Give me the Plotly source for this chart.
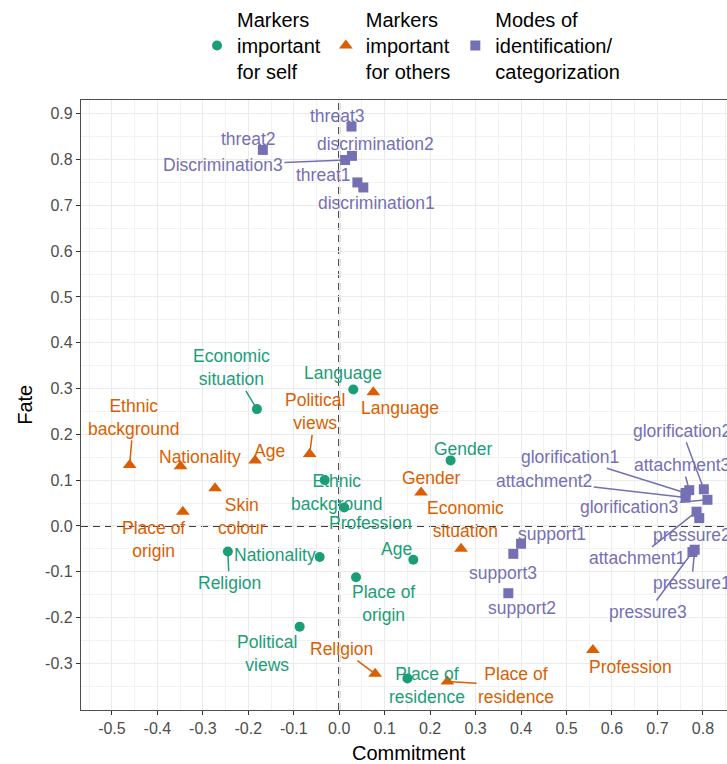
import plotly.graph_objects as go

# ---- data: commitment (x) and fate (y) coordinates -------------------------
self_labels = ["Economic situation", "Language", "Ethnic background", "Profession",
               "Gender", "Age", "Nationality", "Religion", "Place of origin",
               "Political views", "Place of residence"]
self_commitment = [-0.181, 0.031, -0.032, 0.011, 0.245, 0.163, -0.043, -0.245, 0.037, -0.087, 0.150]
self_fate = [0.255, 0.298, 0.100, 0.040, 0.143, -0.074, -0.068, -0.056, -0.112, -0.220, -0.333]

others_labels = ["Ethnic background", "Nationality", "Age", "Political views", "Skin colour",
                 "Place of origin", "Language", "Gender", "Economic situation", "Profession",
                 "Religion", "Place of residence"]
others_commitment = [-0.461, -0.349, -0.185, -0.065, -0.273, -0.344, 0.075, 0.180, 0.268, 0.558, 0.079, 0.238]
others_fate = [0.133, 0.130, 0.143, 0.157, 0.082, 0.031, 0.292, 0.073, -0.050, -0.271, -0.323, -0.340]

modes_labels = ["threat1", "threat2", "threat3", "discrimination1", "discrimination2",
                "Discrimination3", "support1", "support2", "support3", "glorification1",
                "glorification2", "glorification3", "attachment1", "attachment2",
                "attachment3", "pressure1", "pressure2", "pressure3"]
modes_commitment = [0.040, -0.168, 0.027, 0.053, 0.028, 0.013, 0.400, 0.372, 0.383, 0.762,
                    0.802, 0.810, 0.786, 0.762, 0.770, 0.782, 0.792, 0.777]
modes_fate = [0.750, 0.821, 0.872, 0.739, 0.808, 0.799, -0.039, -0.147, -0.061, 0.072,
              0.080, 0.057, 0.031, 0.062, 0.078, -0.052, 0.017, -0.057]

x_ticks = [-0.5, -0.4, -0.3, -0.2, -0.1, 0.0, 0.1, 0.2, 0.3, 0.4, 0.5, 0.6, 0.7, 0.8]
y_ticks = [-0.3, -0.2, -0.1, 0.0, 0.1, 0.2, 0.3, 0.4, 0.5, 0.6, 0.7, 0.8, 0.9]

# ---- repelled label placement: label centre (data units) and leader segment --
self_text_pos = {
    "Economic situation": (-0.236, 0.345, True),
    "Language": (0.009, 0.333, False),
    "Ethnic background": (-0.005, 0.073, False),
    "Profession": (0.068, 0.007, False),
    "Gender": (0.273, 0.167, False),
    "Age": (0.127, -0.050, False),
    "Nationality": (-0.141, -0.063, False),
    "Religion": (-0.242, -0.124, True),
    "Place of origin": (0.097, -0.170, False),
    "Political views": (-0.159, -0.279, False),
    "Place of residence": (0.193, -0.349, False),
}
others_text_pos = {
    "Ethnic background": (-0.452, 0.237, True),
    "Nationality": (-0.307, 0.151, False),
    "Age": (-0.153, 0.164, False),
    "Political views": (-0.053, 0.249, True),
    "Skin colour": (-0.213, 0.021, False),
    "Place of origin": (-0.408, -0.030, False),
    "Language": (0.134, 0.257, False),
    "Gender": (0.204, 0.104, False),
    "Economic situation": (0.277, 0.014, False),
    "Profession": (0.640, -0.308, False),
    "Religion": (0.006, -0.269, True),
    "Place of residence": (0.389, -0.349, True),
}
modes_text_pos = {
    "threat1": (-0.035, 0.766, False),
    "threat2": (-0.200, 0.845, False),
    "threat3": (-0.005, 0.896, False),
    "discrimination1": (0.083, 0.705, False),
    "discrimination2": (0.079, 0.835, False),
    "Discrimination3": (-0.256, 0.788, True),
    "support1": (0.467, -0.017, False),
    "support2": (0.402, -0.180, False),
    "support3": (0.360, -0.103, False),
    "glorification1": (0.508, 0.151, True),
    "glorification2": (0.754, 0.208, True),
    "glorification3": (0.638, 0.042, True),
    "attachment1": (0.656, -0.071, True),
    "attachment2": (0.451, 0.097, True),
    "attachment3": (0.755, 0.133, True),
    "pressure1": (0.775, -0.125, True),
    "pressure2": (0.775, -0.020, False),
    "pressure3": (0.679, -0.188, True),
}

GREEN, ORANGE, PURPLE = "#1B9E77", "#D95F02", "#7570B3"
FONT = "Liberation Sans, Arial, Helvetica, sans-serif"

groups = [
    ("Markers<br>important<br>for self", self_labels, self_commitment, self_fate,
     self_text_pos, GREEN, "circle", 10),
    ("Markers<br>important<br>for others", others_labels, others_commitment, others_fate,
     others_text_pos, ORANGE, "triangle-up", 12),
    ("Modes of<br>identification/<br>categorization", modes_labels, modes_commitment,
     modes_fate, modes_text_pos, PURPLE, "square", 10),
]

fig = go.Figure()
annotations = []


def wrap(name):
    # two-word names go on two lines; "Place of ..." keeps "of" on the first
    words = name.split(" ")
    if len(words) == 3:
        return words[0] + " " + words[1] + "<br>" + words[2]
    if len(words) == 2:
        return words[0] + "<br>" + words[1]
    return name


for legend_name, labels, xs, ys, pos, color, symbol, size in groups:
    fig.add_trace(go.Scatter(
        x=xs, y=ys, mode="markers", name=legend_name,
        marker=dict(color=color, symbol=symbol, size=size, line=dict(width=0)),
        cliponaxis=False,
    ))
    for lab, px, py in zip(labels, xs, ys):
        lx, ly, seg = pos[lab]
        common = dict(text=wrap(lab), font=dict(family=FONT, size=17.5, color=color),
                      xref="x", yref="y")
        if seg:
            annotations.append(dict(
                x=px, y=py, ax=lx, ay=ly, axref="x", ayref="y",
                showarrow=True, arrowhead=0, arrowwidth=1.5, arrowcolor=color,
                standoff=0, startstandoff=0, **common))
        else:
            annotations.append(dict(x=lx, y=ly, showarrow=False,
                                    xanchor="center", yanchor="middle", **common))

# axis titles
annotations.append(dict(text="Commitment", xref="paper", yref="paper", x=0.508, y=-0.071,
                        showarrow=False, font=dict(family=FONT, size=20, color="black"),
                        xanchor="center", yanchor="middle"))
annotations.append(dict(text="Fate", xref="paper", yref="paper", x=-0.087, y=0.5,
                        textangle=-90, showarrow=False,
                        font=dict(family=FONT, size=20, color="black"),
                        xanchor="center", yanchor="middle"))

# dashed reference lines through the origin
ORIGIN = 0.0
shapes = [
    dict(type="line", xref="x", yref="paper", x0=ORIGIN, x1=ORIGIN, y0=0, y1=1,
         line=dict(color="black", width=1.8, dash="7px,5px"), layer="below"),
    dict(type="line", xref="paper", yref="y", x0=0, x1=1, y0=ORIGIN, y1=ORIGIN,
         line=dict(color="black", width=1.8, dash="7px,5px"), layer="below"),
]

grid = dict(showgrid=True, gridcolor="#EBEBEB", gridwidth=1.1,
            zeroline=False, showline=True, linecolor="#4D4D4D", linewidth=1.2,
            ticks="outside", ticklen=4, tickwidth=1, tickcolor="#333333",
            tickfont=dict(family=FONT, size=16, color="#4D4D4D"),
            minor=dict(dtick=0.05, showgrid=True, gridcolor="#F2F2F2", gridwidth=0.7))

fig.update_layout(
    width=727, height=764,
    margin=dict(l=81, r=0, t=100, b=54, autoexpand=False),
    paper_bgcolor="white", plot_bgcolor="white",
    font=dict(family=FONT),
    showlegend=True,
    legend=dict(orientation="h", xref="container", x=0.271, xanchor="left",
                yref="container", y=1.0, yanchor="top",
                font=dict(family=FONT, size=20, color="black"),
                bgcolor="rgba(0,0,0,0)", itemclick=False, traceorder="normal",
                valign="middle"),
    annotations=annotations,
    shapes=shapes,
)
fig.update_xaxes(range=[-0.568, 0.853], tickvals=x_ticks,
                 ticktext=[f"{v:.1f}" for v in x_ticks], mirror=True, **grid)
fig.update_yaxes(range=[-0.402, 0.930], tickvals=y_ticks,
                 ticktext=[f"{v:.1f}" for v in y_ticks], mirror=False, **grid)

fig.write_html("out.html")
